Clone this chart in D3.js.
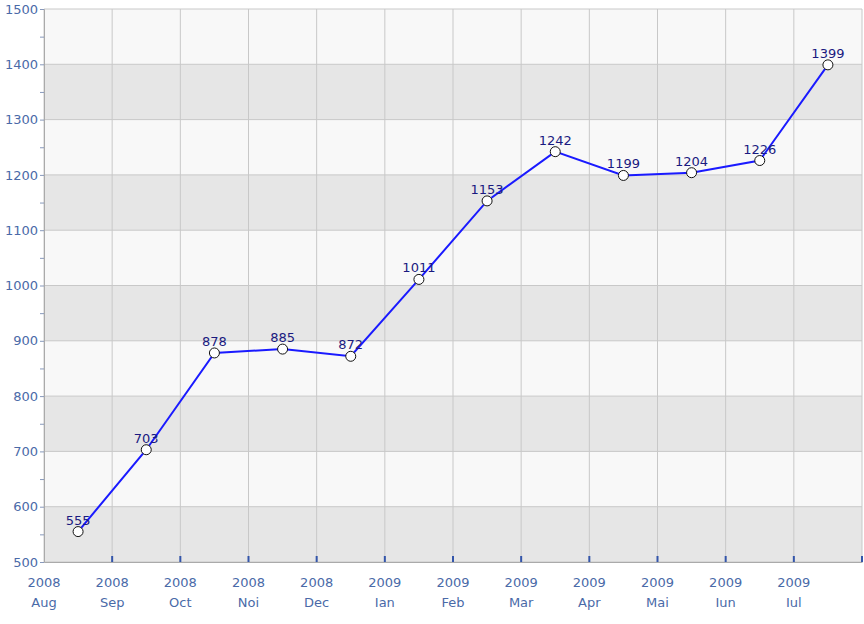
<!DOCTYPE html>
<html><head><meta charset="utf-8">
<script src="https://cdn.jsdelivr.net/npm/d3@7"></script>
<style>body{margin:0;background:#fff}</style>
</head><body><div id="chart"></div>
<script>
const months = ['Aug','Sep','Oct','Noi','Dec','Ian','Feb','Mar','Apr','Mai','Iun','Iul'];
const years = ['2008','2008','2008','2008','2008','2009','2009','2009','2009','2009','2009','2009'];
const values = [555,703,878,885,872,1011,1153,1242,1199,1204,1226,1399];
const yTicks = [500,600,700,800,900,1000,1100,1200,1300,1400,1500];

const width = 864, height = 624;
const margin = {top: 9, right: 2, bottom: 62, left: 44};
const font = 'DejaVu Sans, Verdana, sans-serif';

const x = d3.scaleLinear().domain([0, months.length]).range([margin.left, width - margin.right]);
const y = d3.scaleLinear().domain([500, 1500]).range([height - margin.bottom, margin.top]);

const svg = d3.select('#chart').append('svg').attr('width', width).attr('height', height);

// bands
svg.append('g').selectAll('rect').data(yTicks.slice(0, -1)).join('rect')
    .attr('x', x(0)).attr('width', x(12) - x(0))
    .attr('y', d => y(d + 100)).attr('height', d => y(d) - y(d + 100))
    .attr('fill', d => (d / 100) % 2 === 1 ? '#e6e6e6' : '#f8f8f8');

// grid
svg.append('g').selectAll('line').data(yTicks).join('line')
    .attr('x1', x(0)).attr('x2', x(12)).attr('y1', d => y(d)).attr('y2', d => y(d))
    .attr('stroke', '#c8c8c8');
svg.append('g').selectAll('line').data(d3.range(13)).join('line')
    .attr('x1', d => x(d)).attr('x2', d => x(d)).attr('y1', y(500)).attr('y2', y(1500))
    .attr('stroke', '#c8c8c8');

// y axis
const yAxis = svg.append('g').attr('transform', `translate(${margin.left},0)`)
    .call(d3.axisLeft(y).tickValues(d3.range(500, 1501, 50)).tickSize(4)
        .tickFormat(d => d % 100 === 0 ? d : ''));
yAxis.select('.domain').attr('stroke', '#aaaaaa');
yAxis.selectAll('line').attr('stroke', '#8899bb');
yAxis.selectAll('text').attr('fill', '#4a6aa8').attr('font-family', font).attr('font-size', 13).attr('x', -6);

// x axis
const xAxis = svg.append('g').attr('transform', `translate(0,${y(500)})`)
    .call(d3.axisBottom(x).tickValues(d3.range(13)).tickSize(0).tickFormat(''));
xAxis.select('.domain').attr('stroke', '#aaaaaa');
svg.append('g').selectAll('line').data(d3.range(1, 13)).join('line')
    .attr('x1', d => x(d)).attr('x2', d => x(d)).attr('y1', y(500) - 6).attr('y2', y(500))
    .attr('stroke', '#3355aa').attr('stroke-width', 2);
const lbl = svg.append('g').selectAll('text').data(months).join('text')
    .attr('x', (d, i) => x(i)).attr('text-anchor', 'middle')
    .attr('fill', '#4a6aa8').attr('font-family', font).attr('font-size', 13);
lbl.append('tspan').attr('x', (d, i) => x(i)).attr('y', 587).text((d, i) => years[i]);
lbl.append('tspan').attr('x', (d, i) => x(i)).attr('y', 607).text(d => d);

// line
const line = d3.line().x((d, i) => x(i + 0.5)).y(d => y(d));
svg.append('path').attr('d', line(values)).attr('fill', 'none')
    .attr('stroke', '#1a1aff').attr('stroke-width', 2);
svg.append('g').selectAll('circle').data(values).join('circle')
    .attr('cx', (d, i) => x(i + 0.5)).attr('cy', d => y(d)).attr('r', 5)
    .attr('fill', '#fff').attr('stroke', '#111').attr('stroke-width', 1);
svg.append('g').selectAll('text').data(values).join('text')
    .attr('x', (d, i) => x(i + 0.5)).attr('y', d => y(d) - 7)
    .attr('text-anchor', 'middle').attr('fill', '#1a1a80')
    .attr('font-family', font).attr('font-size', 13).text(d => d);
</script></body></html>
